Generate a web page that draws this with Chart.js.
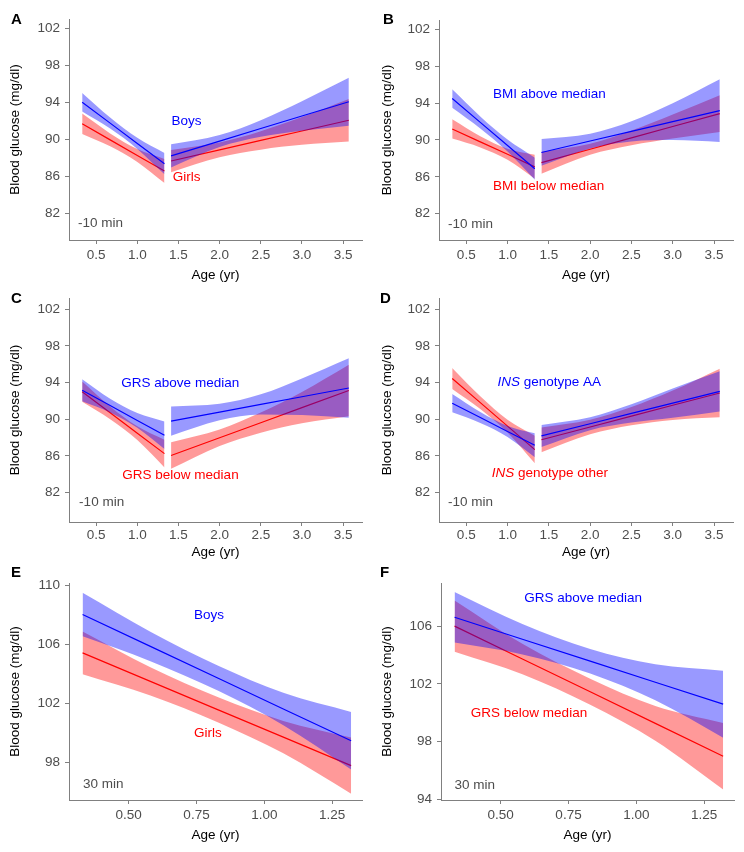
<!DOCTYPE html>
<html>
<head>
<meta charset="utf-8">
<script src="https://cdn.jsdelivr.net/npm/chart.js@4.4.0/dist/chart.umd.min.js"></script>
<style>
  body { margin: 0; background: #fff; font-family: "Liberation Sans", Arial, sans-serif; }
  #page { position: relative; width: 744px; height: 852px; }
  canvas { position: absolute; }
  .tag { position: absolute; font-weight: bold; font-size: 15px; line-height: 15px; color: #000; }
</style>
</head>
<body>
<div id="page">
  <canvas id="cA" width="372" height="285" style="left:0;top:0"></canvas>
  <canvas id="cB" width="372" height="285" style="left:372px;top:0"></canvas>
  <canvas id="cC" width="372" height="285" style="left:0;top:285px"></canvas>
  <canvas id="cD" width="372" height="285" style="left:372px;top:285px"></canvas>
  <canvas id="cE" width="372" height="282" style="left:0;top:570px"></canvas>
  <canvas id="cF" width="372" height="282" style="left:372px;top:570px"></canvas>
  <div class="tag" style="left:11px;top:11px">A</div>
  <div class="tag" style="left:383px;top:11px">B</div>
  <div class="tag" style="left:11px;top:290px">C</div>
  <div class="tag" style="left:380px;top:290px">D</div>
  <div class="tag" style="left:11px;top:564px">E</div>
  <div class="tag" style="left:380px;top:564px">F</div>
</div>
<script>
// ages (yr): first 4 points = first segment, last 5 = second segment
const ageTwoPhase = [0.33, 0.67, 1.0, 1.33, 1.41, 2.0, 2.5, 3.0, 3.57];
const phaseSplit = 4;
const ageEarly = [0.33, 0.58, 0.83, 1.07, 1.32];

const xTicksLong = [0.5, 1.0, 1.5, 2.0, 2.5, 3.0, 3.5];
const xTicksShort = [0.5, 0.75, 1.0, 1.25];
const yTicksFasting = [82, 86, 90, 94, 98, 102];
const yTicksE = [98, 102, 106, 110];
const yTicksF = [94, 98, 102, 106];

// A: sex, -10 min
const aBoys = [94.0, 91.74, 89.54, 87.35, 88.2, 89.8, 91.16, 92.51, 94.05];
const aBoysLo = [93.0, 91.15, 88.95, 86.2, 86.95, 89.15, 90.26, 90.91, 91.45];
const aBoysHi = [95.0, 92.35, 90.15, 88.5, 89.45, 90.45, 92.06, 94.11, 96.65];
const aGirls = [91.67, 89.93, 88.24, 86.56, 87.64, 88.85, 89.87, 90.89, 92.05];
const aGirlsLo = [90.57, 89.23, 87.54, 85.26, 86.44, 88.05, 88.87, 89.39, 89.75];
const aGirlsHi = [92.77, 90.63, 88.94, 87.86, 88.84, 89.65, 90.87, 92.39, 94.35];

// B: BMI, -10 min
const bAbove = [94.49, 91.9, 89.39, 86.88, 88.64, 89.88, 90.93, 91.98, 93.18];
const bAboveLo = [93.49, 91.25, 88.74, 85.68, 87.19, 89.08, 89.83, 89.98, 89.78];
const bAboveHi = [95.49, 92.55, 90.04, 88.08, 90.09, 90.68, 92.03, 93.98, 96.58];
const bBelow = [91.19, 89.79, 88.44, 87.08, 87.53, 88.99, 90.22, 91.45, 92.85];
const bBelowLo = [90.14, 89.19, 87.84, 85.78, 86.33, 88.39, 89.42, 90.15, 90.85];
const bBelowHi = [92.24, 90.39, 89.04, 88.38, 88.73, 89.59, 91.02, 92.75, 94.85];

// C: GRS, -10 min
const cAbove = [93.16, 91.49, 89.87, 88.25, 89.8, 90.78, 91.62, 92.45, 93.4];
const cAboveLo = [91.96, 90.74, 89.07, 86.75, 88.2, 89.88, 90.52, 90.45, 90.15];
const cAboveHi = [94.36, 92.24, 90.67, 89.75, 91.4, 91.68, 92.72, 94.45, 96.65];
const cBelow = [93.0, 90.7, 88.48, 86.25, 86.05, 87.98, 89.62, 91.26, 93.13];
const cBelowLo = [91.9, 90.0, 87.73, 84.75, 84.6, 87.08, 88.52, 89.56, 90.33];
const cBelowHi = [94.1, 91.4, 89.23, 87.75, 87.5, 88.88, 90.72, 92.96, 95.93];

// D: INS genotype, -10 min
const dAA = [91.75, 90.19, 88.67, 87.16, 88.18, 89.51, 90.63, 91.75, 93.03];
const dAALo = [90.75, 89.59, 88.07, 85.86, 86.98, 88.81, 89.63, 90.15, 90.83];
const dAAHi = [92.75, 90.79, 89.27, 88.46, 89.38, 90.21, 91.63, 93.35, 95.23];
const dOther = [94.44, 91.81, 89.25, 86.69, 87.76, 89.15, 90.33, 91.52, 92.86];
const dOtherLo = [93.29, 91.11, 88.55, 85.19, 86.41, 88.35, 89.33, 89.92, 90.21];
const dOtherHi = [95.59, 92.51, 89.95, 88.19, 89.11, 89.95, 91.33, 93.12, 95.51];

// E: sex, 30 min
const eBoys = [108.0, 105.84, 103.68, 101.6, 99.45];
const eBoysLo = [106.52, 104.84, 102.83, 100.5, 97.5];
const eBoysHi = [109.48, 106.84, 104.53, 102.7, 101.4];
const eGirls = [105.4, 103.47, 101.54, 99.69, 97.76];
const eGirlsLo = [103.95, 102.52, 100.69, 98.59, 95.86];
const eGirlsHi = [106.85, 104.42, 102.39, 100.79, 99.66];

// F: GRS, 30 min
const fAbove = [106.61, 105.09, 103.57, 102.11, 100.59];
const fAboveLo = [104.86, 104.04, 102.72, 100.86, 98.27];
const fAboveHi = [108.36, 106.14, 104.42, 103.36, 102.91];
const fBelow = [106.0, 103.72, 101.45, 99.26, 96.98];
const fBelowLo = [104.22, 102.67, 100.55, 98.06, 94.68];
const fBelowHi = [107.78, 104.77, 102.35, 100.46, 99.28];

const BLUE = "#0000ff";
const RED = "#ff0000";
const BLUE_BAND = "rgba(0,0,255,0.4)";
const RED_BAND = "rgba(255,0,0,0.4)";
const GREY = "#4d4d4d";
const FONT = '"Liberation Sans", Arial, sans-serif';

// lower bound, upper bound filled to it, then the fitted line; one set per segment
function groupSets(ages, mean, lo, hi, color, band, baseOrder, split) {
  const segs = split ? [[0, split], [split, ages.length]] : [[0, ages.length]];
  const out = [];
  segs.forEach(([s, e]) => {
    const pts = arr => ages.slice(s, e).map((x, i) => ({ x: x, y: arr[s + i] }));
    out.push({ data: pts(lo), borderWidth: 0, pointRadius: 0, fill: false, cubicInterpolationMode: "monotone", order: baseOrder + 2 });
    out.push({ data: pts(hi), borderWidth: 0, pointRadius: 0, fill: "-1", backgroundColor: band, cubicInterpolationMode: "monotone", order: baseOrder + 1 });
    out.push({ data: pts(mean), borderColor: color, borderWidth: 1.2, pointRadius: 0, fill: false, order: baseOrder });
  });
  return out;
}

const notesPlugin = {
  id: "notes",
  afterDatasetsDraw(chart, args, opts) {
    const { ctx } = chart;
    const x = chart.scales.x, y = chart.scales.y;
    ctx.save();
    ctx.textBaseline = "middle";
    ctx.textAlign = "left";
    (opts.items || []).forEach(n => {
      let px = x.getPixelForValue(n.x);
      const py = y.getPixelForValue(n.y);
      n.parts.forEach(p => {
        ctx.font = (p.italic ? "italic " : "") + "13.5px " + FONT;
        ctx.fillStyle = n.color;
        ctx.fillText(p.text, px, py);
        px += ctx.measureText(p.text).width;
      });
    });
    ctx.restore();
  }
};

function makePanel(id, cfg) {
  new Chart(document.getElementById(id), {
    type: "line",
    data: { datasets: cfg.datasets },
    plugins: [notesPlugin],
    options: {
      responsive: false,
      animation: false,
      layout: { padding: { top: cfg.padTop, right: cfg.padRight, left: 0, bottom: 0 } },
      plugins: {
        legend: { display: false },
        tooltip: { enabled: false },
        notes: { items: cfg.notes }
      },
      scales: {
        x: {
          type: "linear",
          min: cfg.xMin, max: cfg.xMax,
          afterBuildTicks: s => { s.ticks = cfg.xTicks.map(v => ({ value: v })); },
          afterFit: s => { s.height = cfg.xHeight; },
          grid: { display: true, drawOnChartArea: false, drawTicks: true, tickLength: 4, color: "#808080" },
          border: { display: true, color: "#808080", width: 1 },
          ticks: {
            color: GREY, padding: cfg.xTickPad, maxRotation: 0, autoSkip: false,
            font: { family: FONT, size: 13.5 },
            callback: v => v.toFixed(cfg.xDigits)
          },
          title: { display: true, text: "Age (yr)", color: "#000", font: { family: FONT, size: 13.5 }, padding: { top: 0, bottom: cfg.xTitlePad } }
        },
        y: {
          min: cfg.yMin, max: cfg.yMax,
          afterBuildTicks: s => { s.ticks = cfg.yTicks.map(v => ({ value: v })); },
          afterFit: s => { s.width = cfg.yWidth; },
          grid: { display: true, drawOnChartArea: false, drawTicks: true, tickLength: 4, color: "#808080" },
          border: { display: true, color: "#808080", width: 1 },
          ticks: { color: GREY, padding: 5, font: { family: FONT, size: 13.5 }, autoSkip: false },
          title: { display: true, text: "Blood glucose (mg/dl)", color: "#000", font: { family: FONT, size: 13.5 }, padding: { top: 7, bottom: 0 } }
        }
      }
    }
  });
}

const fastingBase = {
  xMin: 0.17, xMax: 3.73, xTicks: xTicksLong, xDigits: 1,
  yTicks: yTicksFasting
};
const earlyBase = {
  xMin: 0.28, xMax: 1.36, xTicks: xTicksShort, xDigits: 2
};

function minus10(x) {
  return { x: x, y: 80.9, color: GREY, parts: [{ text: "-10 min" }] };
}

makePanel("cA", Object.assign({}, fastingBase, {
  padTop: 19, padRight: 10, yWidth: 69, xHeight: 45, xTickPad: 3, xTitlePad: 2,
  yMin: 79.1, yMax: 103.0,
  datasets: groupSets(ageTwoPhase, aBoys, aBoysLo, aBoysHi, BLUE, BLUE_BAND, 0, phaseSplit)
    .concat(groupSets(ageTwoPhase, aGirls, aGirlsLo, aGirlsHi, RED, RED_BAND, 3, phaseSplit)),
  notes: [
    { x: 1.415, y: 91.9, color: BLUE, parts: [{ text: "Boys" }] },
    { x: 1.43, y: 85.9, color: RED, parts: [{ text: "Girls" }] },
    minus10(0.28)
  ]
}));

makePanel("cB", Object.assign({}, fastingBase, {
  padTop: 20, padRight: 11, yWidth: 67, xHeight: 45, xTickPad: 3, xTitlePad: 2,
  yMin: 79.15, yMax: 103.0,
  datasets: groupSets(ageTwoPhase, bAbove, bAboveLo, bAboveHi, BLUE, BLUE_BAND, 0, phaseSplit)
    .concat(groupSets(ageTwoPhase, bBelow, bBelowLo, bBelowHi, RED, RED_BAND, 3, phaseSplit)),
  notes: [
    { x: 0.825, y: 94.9, color: BLUE, parts: [{ text: "BMI above median" }] },
    { x: 0.825, y: 85.0, color: RED, parts: [{ text: "BMI below median" }] },
    minus10(0.278)
  ]
}));

makePanel("cC", Object.assign({}, fastingBase, {
  padTop: 13, padRight: 10, yWidth: 69, xHeight: 48, xTickPad: 1, xTitlePad: 10,
  yMin: 78.8, yMax: 103.2,
  datasets: groupSets(ageTwoPhase, cAbove, cAboveLo, cAboveHi, BLUE, BLUE_BAND, 0, phaseSplit)
    .concat(groupSets(ageTwoPhase, cBelow, cBelowLo, cBelowHi, RED, RED_BAND, 3, phaseSplit)),
  notes: [
    { x: 0.806, y: 93.96, color: BLUE, parts: [{ text: "GRS above median" }] },
    { x: 0.818, y: 83.9, color: RED, parts: [{ text: "GRS below median" }] },
    minus10(0.293)
  ]
}));

makePanel("cD", Object.assign({}, fastingBase, {
  padTop: 13, padRight: 11, yWidth: 67, xHeight: 48, xTickPad: 1, xTitlePad: 10,
  yMin: 78.8, yMax: 103.2,
  datasets: groupSets(ageTwoPhase, dAA, dAALo, dAAHi, BLUE, BLUE_BAND, 0, phaseSplit)
    .concat(groupSets(ageTwoPhase, dOther, dOtherLo, dOtherHi, RED, RED_BAND, 3, phaseSplit)),
  notes: [
    { x: 0.878, y: 94.07, color: BLUE, parts: [{ text: "INS", italic: true }, { text: " genotype AA" }] },
    { x: 0.808, y: 84.07, color: RED, parts: [{ text: "INS", italic: true }, { text: " genotype other" }] },
    minus10(0.278)
  ]
}));

makePanel("cE", Object.assign({}, earlyBase, {
  padTop: 9, padRight: 10, yWidth: 69, xHeight: 52, xTickPad: 3, xTitlePad: 9,
  yMin: 95.43, yMax: 110.13, yTicks: yTicksE,
  datasets: groupSets(ageEarly, eBoys, eBoysLo, eBoysHi, BLUE, BLUE_BAND, 0, 0)
    .concat(groupSets(ageEarly, eGirls, eGirlsLo, eGirlsHi, RED, RED_BAND, 3, 0)),
  notes: [
    { x: 0.741, y: 107.96, color: BLUE, parts: [{ text: "Boys" }] },
    { x: 0.741, y: 99.93, color: RED, parts: [{ text: "Girls" }] },
    { x: 0.332, y: 96.47, color: GREY, parts: [{ text: "30 min" }] }
  ]
}));

makePanel("cF", Object.assign({}, earlyBase, {
  padTop: 8, padRight: 10, yWidth: 69, xHeight: 52, xTickPad: 3, xTitlePad: 9,
  yMin: 93.95, yMax: 108.98, yTicks: yTicksF,
  datasets: groupSets(ageEarly, fAbove, fAboveLo, fAboveHi, BLUE, BLUE_BAND, 0, 0)
    .concat(groupSets(ageEarly, fBelow, fBelowLo, fBelowHi, RED, RED_BAND, 3, 0)),
  notes: [
    { x: 0.587, y: 107.92, color: BLUE, parts: [{ text: "GRS above median" }] },
    { x: 0.39, y: 99.94, color: RED, parts: [{ text: "GRS below median" }] },
    { x: 0.33, y: 95.0, color: GREY, parts: [{ text: "30 min" }] }
  ]
}));
</script>
</body>
</html>
